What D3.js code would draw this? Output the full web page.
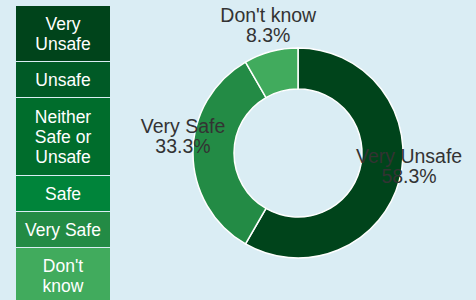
<!DOCTYPE html>
<html><head><meta charset="utf-8">
<script src="https://cdn.jsdelivr.net/npm/d3@7"></script>
<style>
html,body{margin:0;padding:0;background:#daedf4;}
svg{display:block;font-family:"Liberation Sans",Arial,sans-serif;}
</style></head>
<body>
<svg id="c" width="476" height="300"></svg>
<script>
const categories = ["Very Unsafe","Unsafe","Neither Safe or Unsafe","Safe","Very Safe","Don't know"];
const legendLines = [["Very","Unsafe"],["Unsafe"],["Neither","Safe or","Unsafe"],["Safe"],["Very Safe"],["Don't","know"]];
const counts = [7,0,0,0,4,1];
const colors = ["#00441b","#005a26","#006d2c","#00843a","#238b45","#41ab5d"];

const svg = d3.select("#c");
svg.append("rect").attr("width",476).attr("height",300).attr("fill","#daedf4");

// legend
const lineH = 20;
let y = 6;
const lg = svg.append("g");
legendLines.forEach((lines,i)=>{
  const h = lines.length===1 ? 35 : (lines.length===2 ? 55 : 77);
  lg.append("rect").attr("x",16).attr("y",y).attr("width",94).attr("height",h)
    .attr("fill",colors[i]);
  const t = lg.append("text").attr("fill","#fff").attr("font-size",17.5).attr("text-anchor","middle");
  const startY = y + h/2 - (lines.length-1)*lineH/2 + 6.5;
  lines.forEach((s,j)=>{
    t.append("tspan").attr("x",63).attr("y",startY + j*lineH).text(s);
  });
  y += h + 1;
});

// donut
const cx = 298, cy = 153, R = 105, r0 = 64;
const total = d3.sum(counts);
const pie = d3.pie().sort(null).value(d=>d.v);
const data = pie(categories.map((c,i)=>({c, v:counts[i], col:colors[i]})));
const arc = d3.arc().innerRadius(r0).outerRadius(R);
const g = svg.append("g").attr("transform",`translate(${cx},${cy})`);
g.selectAll("path").data(data.filter(d=>d.data.v>0)).join("path")
  .attr("d",arc).attr("fill",d=>d.data.col).attr("stroke","#fff").attr("stroke-width",1.5);

const lab = d3.arc().innerRadius(115).outerRadius(115);
data.filter(d=>d.data.v>0).forEach(d=>{
  const [x,yy] = lab.centroid(d);
  const t = g.append("text").attr("text-anchor","middle").attr("font-size",19.5).attr("fill","#333");
  t.append("tspan").attr("x",x).attr("y",yy-20).text(d.data.c);
  t.append("tspan").attr("x",x).attr("y",yy).text((d.data.v/total*100).toFixed(1)+"%");
});
</script>
</body></html>
